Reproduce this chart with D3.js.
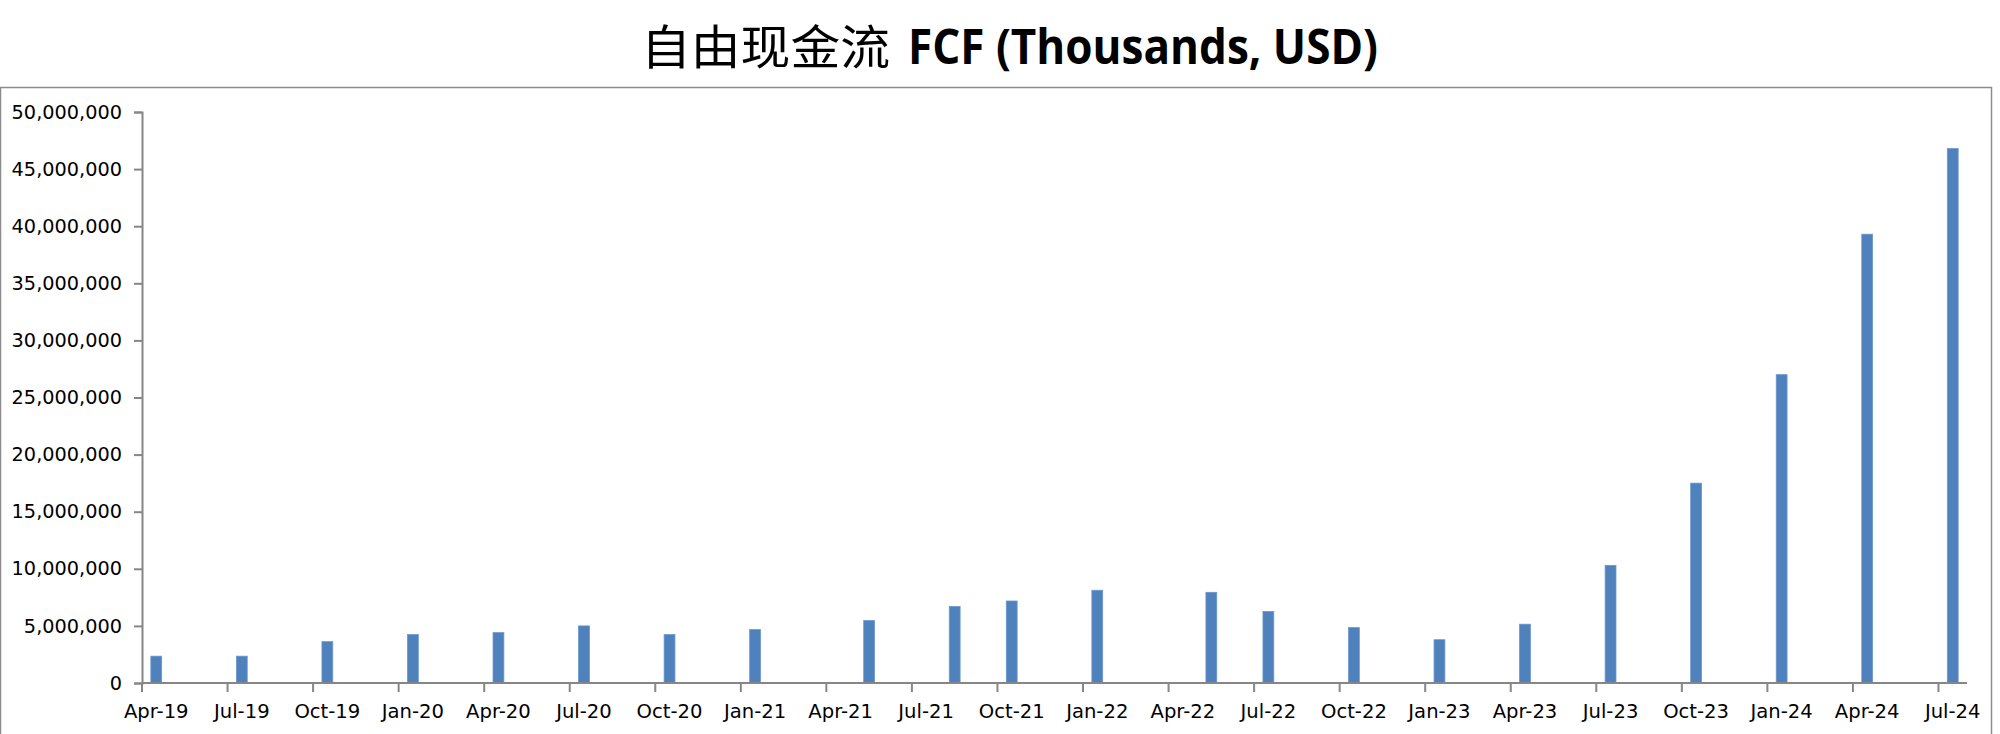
<!DOCTYPE html>
<html>
<head>
<meta charset="utf-8">
<script src="https://cdn.jsdelivr.net/npm/d3@7"></script>
<style>
  body { margin: 0; background: #fff; }
  svg { display: block; }
</style>
</head>
<body>
<script>
// quarter-end months (bars sit in their month slot)
const periods = ["2019-04", "2019-07", "2019-10", "2020-01", "2020-04", "2020-07", "2020-10",
  "2021-01", "2021-05", "2021-08", "2021-10", "2022-01", "2022-05", "2022-07", "2022-10",
  "2023-01", "2023-04", "2023-07", "2023-10", "2024-01", "2024-04", "2024-07"];
// free cash flow, thousands USD
const fcf = [2350000, 2350000, 3620000, 4240000, 4410000, 5000000, 4240000,
  4680000, 5470000, 6700000, 7180000, 8120000, 7940000, 6260000, 4850000,
  3790000, 5150000, 10300000, 17500000, 27000000, 39300000, 46800000];
const yTicks = [0, 5000000, 10000000, 15000000, 20000000, 25000000, 30000000, 35000000, 40000000, 45000000, 50000000];
const titleCn = "自由现金流";
const titleEn = "FCF (Thousands, USD)";

const width = 2000, height = 734;
const plotLeft = 142, plotRight = 1967, plotTop = 112, plotBottom = 683;

const svg = d3.select("body").append("svg")
  .attr("width", width)
  .attr("height", height);

// chart area border
svg.append("rect")
  .attr("x", 0.5).attr("y", 87.5)
  .attr("width", 1991).attr("height", 700)
  .attr("fill", "none")
  .attr("stroke", "#8c8c8c")
  .attr("stroke-width", 1.5);

// month slots from first to last period
const parse = d3.utcParse("%Y-%m");
const months = d3.utcMonth.range(parse(periods[0]), d3.utcMonth.offset(parse(periods[periods.length - 1]), 1));
const key = d3.utcFormat("%Y-%m");

const x = d3.scaleBand()
  .domain(months.map(key))
  .range([plotLeft, plotRight])
  .padding(0);

const y = d3.scaleLinear()
  .domain([0, 50000000])
  .range([plotBottom, plotTop]);

const axisColor = "#868686";
const labelFont = "DejaVu Sans, Verdana, sans-serif";

// bars
const bw = x.bandwidth() * 0.38;
svg.selectAll("rect.bar")
  .data(periods.map((p, i) => ({ p, v: fcf[i] })))
  .enter()
  .append("rect")
  .attr("class", "bar")
  .attr("x", d => x(d.p) + (x.bandwidth() - bw) / 2)
  .attr("y", d => y(d.v))
  .attr("width", bw)
  .attr("height", d => plotBottom - y(d.v))
  .attr("fill", "#4F81BD")
  .attr("stroke", "#6a96cc")
  .attr("stroke-width", 0.8);

// y axis
const yAxis = d3.axisLeft(y)
  .tickValues(yTicks)
  .tickSize(8)
  .tickPadding(12)
  .tickFormat(d3.format(",d"));

const gy = svg.append("g")
  .attr("transform", `translate(${plotLeft},0)`)
  .call(yAxis);
gy.select(".domain").attr("stroke", axisColor).attr("stroke-width", 2);
gy.selectAll(".tick line").attr("stroke", axisColor).attr("stroke-width", 2);
gy.selectAll(".tick text")
  .attr("font-family", labelFont)
  .attr("font-size", 19.3)
  .attr("fill", "#000");

// x axis: ticks at quarter boundaries, labels centred in the month slot
const tickMonths = months.filter((m, i) => i % 3 === 0).map(key);
const gx = svg.append("g");
gx.append("line")
  .attr("x1", plotLeft).attr("x2", plotRight)
  .attr("y1", plotBottom).attr("y2", plotBottom)
  .attr("stroke", axisColor).attr("stroke-width", 2);
gx.selectAll("line.tick")
  .data(tickMonths)
  .enter()
  .append("line")
  .attr("class", "tick")
  .attr("x1", d => x(d)).attr("x2", d => x(d))
  .attr("y1", plotBottom).attr("y2", plotBottom + 9)
  .attr("stroke", axisColor).attr("stroke-width", 2);
const fmt = d3.utcFormat("%b-%y");
gx.selectAll("text")
  .data(tickMonths)
  .enter()
  .append("text")
  .attr("x", d => x(d) + x.bandwidth() / 2)
  .attr("y", 718)
  .attr("text-anchor", "middle")
  .attr("font-family", labelFont)
  .attr("font-size", 19.6)
  .attr("fill", "#000")
  .text(d => fmt(parse(d)));

// title
const title = svg.append("text")
  .attr("y", 64)
  .attr("fill", "#000");
title.append("tspan")
  .attr("x", 641)
  .attr("font-family", "Noto Sans CJK SC, sans-serif")
  .attr("font-weight", 400)
  .attr("font-size", 47)
  .attr("textLength", 249)
  .attr("lengthAdjust", "spacingAndGlyphs")
  .text(titleCn);
title.append("tspan")
  .attr("x", 908)
  .attr("font-family", "Open Sans, sans-serif")
  .attr("font-weight", 700)
  .attr("font-size", 48)
  .attr("textLength", 470)
  .attr("lengthAdjust", "spacingAndGlyphs")
  .text(titleEn);
</script>
</body>
</html>
